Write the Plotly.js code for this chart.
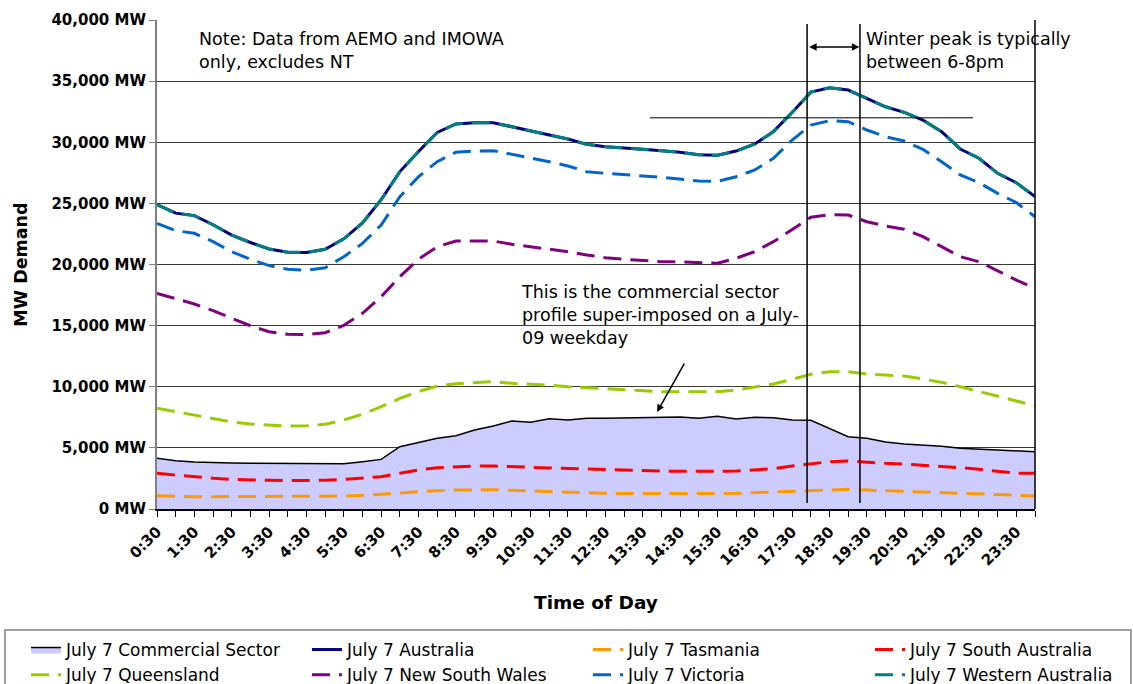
<!DOCTYPE html>
<html><head><meta charset="utf-8">
<script src="https://cdn.plot.ly/plotly-3.0.1.min.js"></script>
<style>html,body{margin:0;padding:0;background:#fff}#chart{width:1133px;height:684px}</style>
</head><body><div id="chart"></div>
<script>
const timeLabels = ["0:30","1:00","1:30","2:00","2:30","3:00","3:30","4:00","4:30","5:00","5:30","6:00",
  "6:30","7:00","7:30","8:00","8:30","9:00","9:30","10:00","10:30","11:00","11:30","12:00",
  "12:30","13:00","13:30","14:00","14:30","15:00","15:30","16:00","16:30","17:00","17:30","18:00",
  "18:30","19:00","19:30","20:00","20:30","21:00","21:30","22:00","22:30","23:00","23:30","0:00"];

const commercial = [4150,3950,3840,3770,3760,3740,3730,3700,3700,3650,3700,3870,4060,5100,5420,5780,6000,6460,6790,7200,7090,7390,7280,7420,7420,7440,7500,7530,7530,7420,7580,7360,7500,7470,7280,7250,6600,5910,5780,5480,5320,5240,5130,4960,4880,4830,4740,4690];
const australia = [24900,24200,24000,23250,22400,21800,21270,21000,20990,21250,22100,23400,25300,27600,29250,30800,31500,31600,31600,31250,30900,30600,30270,29830,29640,29500,29420,29310,29180,28980,28930,29280,29860,30870,32440,34100,34460,34270,33590,32900,32440,31820,30860,29450,28690,27460,26690,25550];
const tasmania = [1090,1040,1010,1010,1010,1010,1010,1010,1010,1040,1060,1120,1230,1340,1420,1500,1550,1580,1580,1530,1470,1420,1370,1310,1280,1260,1260,1260,1230,1230,1230,1280,1340,1390,1470,1550,1580,1610,1550,1500,1470,1440,1390,1340,1260,1180,1120,1070];
const southAustralia = [2920,2780,2640,2510,2430,2370,2350,2320,2320,2350,2430,2510,2640,2920,3190,3380,3460,3520,3520,3490,3410,3350,3300,3250,3250,3170,3130,3110,3080,3050,3080,3110,3190,3300,3520,3710,3870,3930,3820,3740,3680,3600,3520,3380,3250,3110,2920,2920];
const queensland = [8240,7960,7630,7340,7120,6950,6850,6790,6810,6930,7280,7750,8370,9050,9600,10060,10250,10360,10410,10280,10230,10120,10000,9920,9870,9730,9650,9600,9600,9600,9600,9730,9950,10230,10610,11020,11230,11230,11040,10960,10880,10630,10360,10000,9600,9240,8860,8450];
const newSouthWales = [17640,17230,16770,16220,15600,14990,14500,14290,14260,14420,15020,16010,17370,19000,20430,21460,21920,21950,21920,21650,21460,21270,21050,20780,20560,20430,20310,20230,20210,20150,20100,20510,21050,21870,22830,23860,24080,24050,23500,23150,22880,22280,21460,20640,20230,19470,18730,18050];
const victoria = [23370,22770,22550,21870,21050,20430,19910,19610,19530,19740,20640,21730,23230,25550,27180,28410,29180,29280,29310,29010,28740,28410,28060,27590,27460,27320,27240,27130,26990,26830,26800,27180,27730,28690,30180,31410,31760,31680,31000,30450,30100,29420,28410,27320,26690,25820,25060,23910];
const westernAustralia = [24900,24200,24000,23250,22400,21800,21270,21000,20990,21250,22100,23400,25300,27600,29250,30800,31500,31600,31600,31250,30900,30600,30270,29830,29640,29500,29420,29310,29180,28980,28930,29280,29860,30870,32440,34100,34460,34270,33590,32900,32440,31820,30860,29450,28690,27460,26690,25550];

const FONT = 'DejaVu Sans, sans-serif';
const DASH = '18px,9px';
const tickText = timeLabels.map((t, i) => (i % 2 === 0 ? t : ''));

function lineTrace(name, y, color, dash, legendId) {
  return {type: 'scatter', mode: 'lines', x: timeLabels, y: y, name: name, legend: legendId,
          line: {color: color, width: 3, dash: dash}};
}

const traces = [
  {type: 'scatter', mode: 'lines', x: timeLabels, y: commercial, name: 'July 7 Commercial Sector', legend: 'legend',
   fill: 'tozeroy', fillcolor: '#ccccff', line: {color: '#000000', width: 1.5}},
  lineTrace('July 7 Australia', australia, '#000080', 'solid', 'legend2'),
  lineTrace('July 7 Tasmania', tasmania, '#ff9900', DASH, 'legend3'),
  lineTrace('July 7 South Australia', southAustralia, '#ff0000', DASH, 'legend4'),
  lineTrace('July 7 Queensland', queensland, '#99cc00', DASH, 'legend'),
  lineTrace('July 7 New South Wales', newSouthWales, '#800080', DASH, 'legend2'),
  lineTrace('July 7 Victoria', victoria, '#0066cc', DASH, 'legend3'),
  lineTrace('July 7 Western Australia', westernAustralia, '#008080', DASH, 'legend4')
];

const textFont = {family: FONT, size: 17.5, color: '#000'};
function legendAt(x) {
  return {orientation: 'v', x: x, y: -0.2515, xanchor: 'left', yanchor: 'top',
          bgcolor: 'rgba(0,0,0,0)', borderwidth: 0, tracegroupgap: 0, traceorder: 'normal',
          font: {family: FONT, size: 17, color: '#000'}};
}

const layout = {
  width: 1133, height: 684,
  margin: {l: 157, r: 98, t: 20, b: 175, autoexpand: false},
  paper_bgcolor: '#ffffff', plot_bgcolor: '#ffffff',
  font: {family: FONT, color: '#000'},
  showlegend: true,
  xaxis: {
    type: 'category', range: [0, 47], automargin: false,
    tickmode: 'array', tickvals: timeLabels, ticktext: tickText,
    tickangle: -45, tickfont: {family: FONT, size: 15, weight: 'bold', color: '#000'},
    ticks: 'outside', ticklen: 6, tickcolor: '#000', tickwidth: 1,
    showline: true, linecolor: '#000', linewidth: 2,
    showgrid: false, zeroline: false,
    title: {text: 'Time of Day', font: {family: FONT, size: 18.5, weight: 'bold', color: '#000'}, standoff: 28}
  },
  yaxis: {
    range: [0, 40000], dtick: 5000, tick0: 0, automargin: false,
    tickformat: ',d', ticksuffix: ' MW',
    tickfont: {family: FONT, size: 15, weight: 'bold', color: '#000'},
    ticks: 'outside', ticklen: 6, tickcolor: '#808080', tickwidth: 1,
    showline: true, linecolor: '#808080', linewidth: 2,
    showgrid: true, gridcolor: '#3a3a3a', gridwidth: 1, zeroline: false,
    title: {text: 'MW Demand', font: {family: FONT, size: 17.5, weight: 'bold', color: '#000'}, standoff: 19}
  },
  legend: legendAt(-0.1492),
  legend2: legendAt(0.1708),
  legend3: legendAt(0.4909),
  legend4: legendAt(0.8121),
  shapes: [
    {type: 'line', xref: 'x', yref: 'y', x0: 34.8, x1: 34.8, y0: 490, y1: 39670, line: {color: '#000', width: 1.5}, layer: 'above'},
    {type: 'line', xref: 'x', yref: 'y', x0: 37.63, x1: 37.63, y0: 490, y1: 39670, line: {color: '#000', width: 1.5}, layer: 'above'},
    {type: 'line', xref: 'x', yref: 'y', x0: 26.39, x1: 43.68, y0: 32000, y1: 32000, line: {color: '#000', width: 1}, layer: 'above'},
    {type: 'line', xref: 'paper', yref: 'paper', x0: 1, x1: 1, y0: 0, y1: 1, line: {color: '#000', width: 1.5}, layer: 'above'},
    {type: 'rect', xref: 'paper', yref: 'paper', x0: -0.1731, x1: 1.1093, y0: -0.2474, y1: -0.37,
     line: {color: '#808080', width: 1.5}, fillcolor: 'rgba(0,0,0,0)', layer: 'above'}
  ],
  annotations: [
    {xref: 'paper', yref: 'paper', x: 0.0456, y: 0.985, xanchor: 'left', yanchor: 'top', align: 'left',
     showarrow: false, text: 'Note: Data from AEMO and IMOWA<br>only, excludes NT', font: textFont},
    {xref: 'paper', yref: 'paper', x: 0.8052, y: 0.985, xanchor: 'left', yanchor: 'top', align: 'left',
     showarrow: false, text: 'Winter peak is typically<br>between 6-8pm', font: textFont},
    {xref: 'paper', yref: 'paper', x: 0.4123, y: 0.468, xanchor: 'left', yanchor: 'top', align: 'left',
     showarrow: false, text: 'This is the commercial sector<br>profile super-imposed on a July-<br>09 weekday', font: textFont},
    {xref: 'x', yref: 'y', x: 26.77, y: 7930, axref: 'x', ayref: 'y', ax: 28.27, ay: 12020,
     showarrow: true, arrowhead: 2, arrowsize: 1, arrowwidth: 1.5, arrowcolor: '#000', text: ''},
    {xref: 'x', yref: 'y', x: 37.6, y: 37790, axref: 'x', ayref: 'y', ax: 34.83, ay: 37790,
     showarrow: true, arrowside: 'end+start', arrowhead: 2, arrowsize: 1, arrowwidth: 1.5, arrowcolor: '#000',
     standoff: 0, startstandoff: 0, text: ''}
  ]
};

Plotly.newPlot('chart', traces, layout, {displayModeBar: false, staticPlot: true});
</script>
</body></html>
